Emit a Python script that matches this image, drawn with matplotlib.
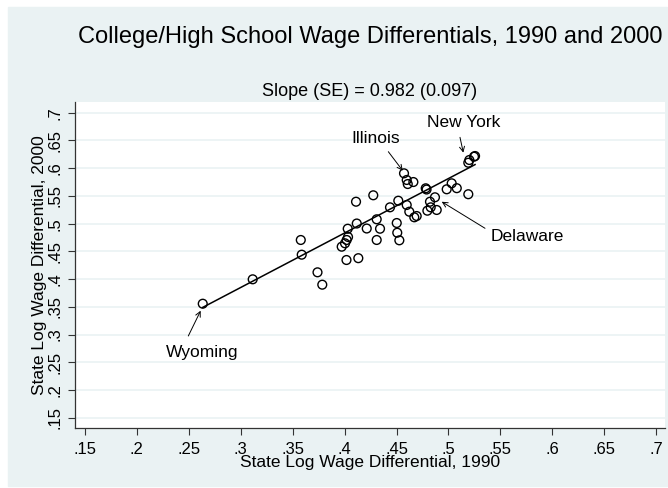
import matplotlib
matplotlib.use('Agg')
import matplotlib.pyplot as plt
from matplotlib.patches import Rectangle
from matplotlib.ticker import FixedLocator, FuncFormatter
import numpy as np

plt.rcParams['font.family'] = ['Liberation Sans', 'DejaVu Sans']

# state log wage differentials
diff_1990 = [0.2634, 0.3115, 0.3578, 0.3587, 0.3739, 0.3785, 0.4030, 0.4117,
             0.4033, 0.4020, 0.4004, 0.3972, 0.4018, 0.4132, 0.4110, 0.4276,
             0.4213, 0.4309, 0.4341, 0.4309, 0.4437, 0.4517, 0.4502, 0.4507,
             0.4527, 0.4598, 0.4623, 0.4671, 0.4694, 0.4572, 0.4598, 0.4608,
             0.4662, 0.4781, 0.4789, 0.4797, 0.4822, 0.4870, 0.4829, 0.4887,
             0.4983, 0.5031, 0.5080, 0.5191, 0.5191, 0.5201, 0.5246, 0.5256]
diff_2000 = [0.3556, 0.3996, 0.4705, 0.4440, 0.4122, 0.3899, 0.4908, 0.5002,
             0.4759, 0.4705, 0.4645, 0.4584, 0.4344, 0.4377, 0.5395, 0.5511,
             0.4912, 0.5078, 0.4908, 0.4705, 0.5294, 0.5413, 0.5011, 0.4836,
             0.4699, 0.5336, 0.5215, 0.5114, 0.5137, 0.5907, 0.5787, 0.5714,
             0.5750, 0.5637, 0.5615, 0.5233, 0.5395, 0.5475, 0.5294, 0.5246,
             0.5619, 0.5727, 0.5639, 0.5530, 0.6098, 0.6147, 0.6207, 0.6219]

slope = 0.982
se = 0.097
intercept = 0.0903

# labelled states: name, point, text position
labels = ['Illinois', 'New York', 'Delaware', 'Wyoming']
label_xy = [(0.4560, 0.5954), (0.5143, 0.6279), (0.4935, 0.5395), (0.2614, 0.3430)]
arrow_from = [(0.4421, 0.6297), (0.5111, 0.6556), (0.5352, 0.4916), (0.2495, 0.2974)]
text_xy = [(0.4296, 0.6538), (0.5143, 0.6820), (0.5761, 0.4759), (0.2631, 0.2685)]

ticks = [0.15, 0.2, 0.25, 0.3, 0.35, 0.4, 0.45, 0.5, 0.55, 0.6, 0.65, 0.7]

bg = '#eaf2f3'
W, H = 668, 488
fig = plt.figure(figsize=(W / 100, H / 100), dpi=100, facecolor='white')
fig.patches.append(Rectangle((8 / W, 2 / H), 659 / W, 479 / H,
                             transform=fig.transFigure, color=bg, zorder=-10))

ax = fig.add_axes([75 / W, 60 / H, 590 / W, 326 / H])
ax.set_facecolor('white')
ax.set_xlim(0.1404, 0.7085)
ax.set_ylim(0.1315, 0.7193)

x = np.array(diff_1990)
y = np.array(diff_2000)
ax.scatter(x, y, s=40, facecolors='none', edgecolors='black', linewidths=1.0, zorder=3)
xs = np.array([x.min(), x.max()])
ax.plot(xs, intercept + slope * xs, color='black', lw=1.1, zorder=2)

for name, p, a, t in zip(labels, label_xy, arrow_from, text_xy):
    ax.annotate('', xy=p, xytext=a,
                arrowprops=dict(arrowstyle='->', color='black', lw=0.7,
                                shrinkA=0, shrinkB=0, mutation_scale=9))
    ax.text(t[0], t[1], name, ha='center', va='center', fontsize=12.5)

fmt = FuncFormatter(lambda v, pos: ('%g' % v).lstrip('0'))
ax.xaxis.set_major_locator(FixedLocator(ticks))
ax.yaxis.set_major_locator(FixedLocator(ticks))
ax.xaxis.set_major_formatter(fmt)
ax.yaxis.set_major_formatter(fmt)
ax.tick_params(direction='out', length=5, width=0.8, color='#333333',
               labelsize=12, pad=4)
ax.tick_params(axis='x', pad=5)
plt.setp(ax.get_yticklabels(), rotation=90, va='center')
ax.grid(axis='y', color=bg, lw=1.2)
ax.set_axisbelow(True)
for side in ['top', 'right']:
    ax.spines[side].set_visible(False)
for side in ['left', 'bottom']:
    ax.spines[side].set_color('#333333')
    ax.spines[side].set_linewidth(0.9)

ax.set_xlabel('State Log Wage Differential, 1990', fontsize=12.5, labelpad=-1)
ax.set_ylabel('State Log Wage Differential, 2000', fontsize=12.5, labelpad=0)

fig.text(370 / W, 1 - 37 / H, 'College/High School Wage Differentials, 1990 and 2000',
         ha='center', va='center', fontsize=17)
fig.text(370 / W, 1 - 91 / H, 'Slope (SE) = %.3f (%.3f)' % (slope, se),
         ha='center', va='center', fontsize=13)

fig.savefig('out.png', dpi=100, facecolor='white')
